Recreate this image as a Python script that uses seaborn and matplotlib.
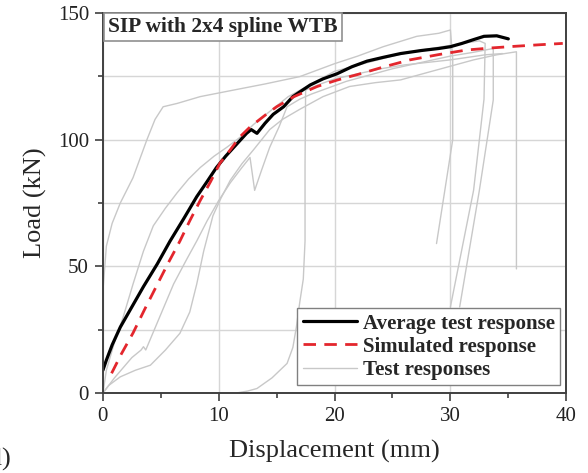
import numpy as np
import pandas as pd
import seaborn as sns
import matplotlib.pyplot as plt
from matplotlib.lines import Line2D
from matplotlib.ticker import MultipleLocator

# average test response
avg_x = [0, 0.3, 0.8, 1.5, 2.5, 3.5, 4.7, 5.8, 7.0, 8.1, 9.0, 9.8, 10.6, 11.3, 12.0, 12.4, 12.8,
         13.3, 14.0, 14.7, 15.6, 16.4, 17.9, 19.0, 20.2, 21.5, 22.8, 24.2, 25.7, 27.5, 29.0,
         30.0, 31.0, 32.0, 32.9, 34.0, 35.0]
avg_y = [9, 13, 19, 26, 34, 42, 51, 60, 69, 77.5, 83.5, 89, 93.5, 97, 100.5, 102.5, 104,
         102.5, 106.5, 110, 113, 117, 121.6, 124, 126, 128.8, 131, 132.5, 134, 135.2, 136,
         136.7, 138, 139.5, 140.8, 141, 139.8]

# simulated response
sim_x = [0.75, 1.6, 2.6, 3.6, 4.6, 5.6, 6.65, 7.5, 8.4, 9.3, 10.1, 11.0, 11.8, 12.7, 14.1,
         15.0, 16.5, 18.5, 20.2, 22.2, 24.3, 26.5, 29.0, 31.4, 33.5, 35.7, 37.8, 39.7]
sim_y = [7.8, 15.5, 23.7, 33, 42, 51, 60, 68, 76, 83.5, 90.7, 96, 101, 105, 110,
         113, 117, 121, 123.5, 126, 128.8, 131.5, 133.6, 135.4, 136.2, 136.9, 137.5, 138]

# individual test responses
t1_x = [0, 0.03, 0.3, 0.8, 1.5, 2.6, 3.8, 4.5, 5.2, 6.4, 8.4, 11.3, 14.0, 17.0, 20.0,
        22.0, 24.2, 27.1, 29.0, 30.0, 30.2, 30.2, 28.8]
t1_y = [0, 42, 58, 67, 75, 85, 100, 108, 113, 114.3, 117, 119.6, 122, 124.9, 130,
        133, 136.7, 140.8, 142, 143.3, 132, 100, 59]
t2_x = [0, 0.3, 1.0, 1.75, 2.6, 3.5, 4.35, 5.4, 6.4, 7.4, 8.4, 9.6, 10.7, 12.0, 13.0,
        14.5, 16.0, 18.0, 20.0, 22.5, 25.0, 27.0, 29.0, 31.0, 32.5, 33.0, 32.9, 32.0, 30.0]
t2_y = [0, 9, 20, 30, 43, 56, 66, 73, 79, 84.5, 89, 93.5, 97, 101.5, 106,
        111.5, 117, 122, 127, 130, 133, 135, 136.5, 138, 139, 138, 116, 80, 34]
t3_x = [0, 1.0, 2.5, 3.3, 3.5, 3.7, 4.9, 6.1, 7.2, 8.1, 9.0, 10.0, 11.0, 12.0, 12.7,
        13.1, 13.7, 14.4, 15.2, 15.9, 17.0, 18.0, 21.0, 23.0, 25.0, 27.5, 30.0, 32.0,
        33.7, 33.7, 32.5, 30.8]
t3_y = [0, 6, 14, 17, 18.3, 17, 30, 43, 52.5, 60, 68, 76, 83, 89, 93,
        80, 88, 97, 105, 113, 116, 118, 123, 125.5, 128, 130.5, 133, 134.5,
        136, 115.7, 80, 34]
t4_x = [0, 0.5, 1.5, 2.8, 4.1, 5.4, 6.65, 7.5, 8.1, 8.7, 9.5, 10.2, 11.0, 12.0, 13.0,
        14.4, 15.5, 17.0, 19.0, 21.3, 23.5, 25.7, 28.0, 30.0, 32.0, 34.0, 35.7, 35.7]
t4_y = [0, 3, 6.4, 9, 11, 17, 23.6, 32, 43, 56, 70, 77, 84, 90.5, 96,
        104, 108, 112, 117, 121, 122.5, 123.6, 126.5, 129, 131.5, 133.5, 134.7, 49]
t5_x = [11.5, 12.5, 13.3, 14.6, 15.9, 16.4, 16.7, 17.0, 17.3, 17.45, 17.45, 17.5, 18.5,
        20.0, 22.0, 24.0, 26.0, 28.0, 30.0, 31.5, 33.0, 34.5]
t5_y = [0, 0.8, 1.8, 6, 11.7, 18, 26, 36, 45, 60, 90, 119.6, 121.5,
        124, 126, 128, 129.5, 130.5, 131.5, 132.5, 133.5, 134]

tests = pd.concat([
    pd.DataFrame({"disp": x, "load": y, "test": i})
    for i, (x, y) in enumerate([(t1_x, t1_y), (t2_x, t2_y), (t3_x, t3_y),
                                (t4_x, t4_y), (t5_x, t5_y)])
])

sns.set_style("ticks")
plt.rcParams["font.family"] = ["Liberation Serif", "DejaVu Serif"]

fig = plt.figure(figsize=(5.88, 4.73), dpi=100)
ax = fig.add_axes([0.175, 0.169, 0.788, 0.8035])

gray = "#c8c8c8"
sns.lineplot(data=tests, x="disp", y="load", units="test", estimator=None, sort=False,
             color=gray, lw=1.0, ax=ax, legend=False)
sns.lineplot(x=avg_x, y=avg_y, sort=False, color="black", lw=2.3, ax=ax)
sns.lineplot(x=sim_x, y=sim_y, sort=False, color="#e3262d", lw=2.0, ax=ax,
             dashes=False, linestyle=(0, (4.5, 3)))

ax.set_xlim(0, 40)
ax.set_ylim(0, 150)
ax.xaxis.set_major_locator(MultipleLocator(10))
ax.xaxis.set_minor_locator(MultipleLocator(5))
ax.yaxis.set_major_locator(MultipleLocator(50))
ax.yaxis.set_minor_locator(MultipleLocator(25))
ax.grid(True, which="major", color="#d6d6d6", lw=1.0)
ax.yaxis.grid(True, which="minor", color="#d6d6d6", lw=1.0)
ax.set_axisbelow(True)

for s in ax.spines.values():
    s.set_color("#404040")
    s.set_linewidth(1.4)
ax.tick_params(which="major", length=6, width=1.2, labelsize=15, color="#404040", pad=4)
ax.tick_params(which="minor", length=3.5, width=1.2, color="#404040")
for lab in ax.get_xticklabels() + ax.get_yticklabels():
    lab.set_color("#222222")

ax.set_xlabel("Displacement (mm)", fontsize=19, labelpad=10)
ax.set_ylabel("Load (kN)", fontsize=19, labelpad=8)

ax.text(0.012, 0.99, "SIP with 2x4 spline WTB", transform=ax.transAxes, ha="left", va="top",
        fontsize=15.5, fontweight="bold",
        bbox=dict(boxstyle="square,pad=0.2", fc="white", ec="#909090", lw=1.2))

handles = [Line2D([], [], color="black", lw=2.3),
           Line2D([], [], color="#e3262d", lw=2.0, linestyle=(0, (4.5, 3))),
           Line2D([], [], color=gray, lw=1.0)]
labels = ["Average test response", "Simulated response", "Test responses"]
leg = ax.legend(handles, labels, loc="lower right", bbox_to_anchor=(0.996, 0.01),
                prop={"weight": "bold", "size": 15}, frameon=True, fancybox=False,
                edgecolor="#808080", framealpha=1, handlelength=2.6, handletextpad=0.3,
                labelspacing=0.15, borderpad=0.25, borderaxespad=0.2)
leg.get_frame().set_linewidth(1.0)

fig.text(0.02, 0.005, "(d)", ha="right", va="bottom", fontsize=19)

fig.savefig("out.png", dpi=100)
